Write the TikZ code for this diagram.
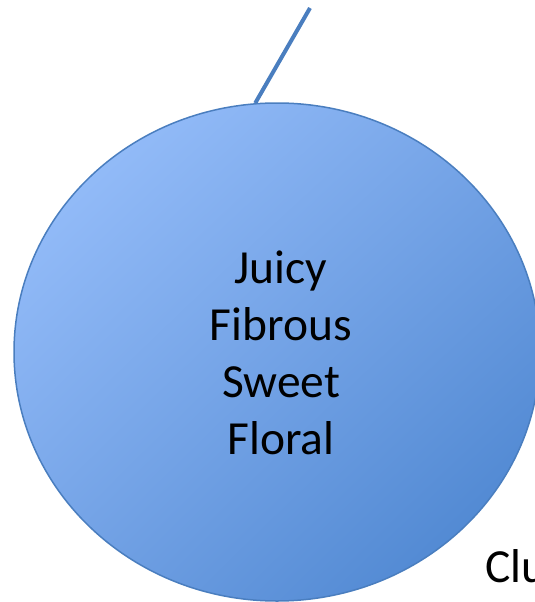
\documentclass[tikz,border=0pt]{standalone}
\usepackage{fontspec}
\setmainfont{Carlito}
\usepackage{xcolor}
\usetikzlibrary{shapes.geometric, positioning, calc, shadings}

\definecolor{fruitlight}{HTML}{9EC4FF}
\definecolor{fruitmid}{HTML}{74A3E6}
\definecolor{fruitdark}{HTML}{4580CC}
\definecolor{fruitedge}{HTML}{4A7EBF}

\begin{document}
\begin{tikzpicture}[x=1pt, y=-1pt,
    fruit/.style={ellipse, draw=fruitedge, line width=1.5pt, minimum width=526pt, minimum height=498pt, inner sep=0pt,
        upper left=fruitlight, lower right=fruitdark, upper right=fruitmid, lower left=fruitmid},
    traits/.style={align=center, inner sep=0pt, font=\fontsize{47.5}{57}\selectfont},
    stem/.style={draw=fruitedge, line width=4pt},
    tag/.style={font=\fontsize{47.5}{57}\selectfont, anchor=base west, inner sep=0pt}]
    \useasboundingbox (0,0) rectangle (535,602);

    \node [fruit] (apple) at (277,352) {};
    \node [traits] (traits) at ($(apple.center)+(4,1)$) {Juicy\\Fibrous\\Sweet\\Floral};
    \coordinate (stemtip) at (310,8);
    \node [tag] (label) at (485,582) {Clu};

    \path [stem] (apple.95) -- (stemtip);
\end{tikzpicture}
\end{document}
